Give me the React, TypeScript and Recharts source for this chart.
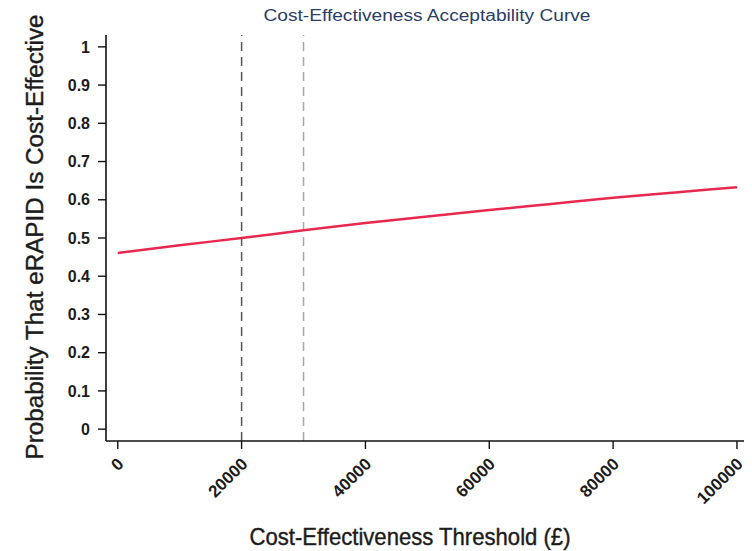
import { LineChart, Line, XAxis, YAxis, ReferenceLine, Label } from 'recharts';

// Willingness-to-pay thresholds (GBP) and probability that eRAPID is cost-effective
const thresholds = [0, 10000, 20000, 30000, 40000, 50000, 60000, 70000, 80000, 90000, 100000];
const probability = [0.461, 0.481, 0.5, 0.52, 0.539, 0.556, 0.573, 0.589, 0.605, 0.619, 0.633];

const xTicks = [0, 20000, 40000, 60000, 80000, 100000];
const yTicks = [0, 0.1, 0.2, 0.3, 0.4, 0.5, 0.6, 0.7, 0.8, 0.9, 1];
const refThresholds = [20000, 30000];
const refColors = ['#555555', '#a8a8a8'];

const FONT = '"Liberation Sans", Arial, sans-serif';
const INK = '#1c1c1c';

const data = thresholds.map((t, i) => ({ threshold: t, prob: probability[i] }));

function RotatedTick({ x, y, payload }: any) {
  return (
    <g transform={`translate(${x + 7},${y + 14})`}>
      <text
        textAnchor="end"
        transform="rotate(-45)"
        fontSize={17}
        fontWeight={700}
        fontFamily={FONT}
        fill={INK}
      >
        {payload.value}
      </text>
    </g>
  );
}

// title + x axis title, drawn at fixed spots in the svg
function renderXLabels() {
  return (
    <g>
      <text
        x={419}
        y={13}
        textAnchor="middle"
        fontSize={16}
        fontFamily={FONT}
        fill="#2b3d66"
        textLength={327}
        lengthAdjust="spacingAndGlyphs"
      >
        Cost-Effectiveness Acceptability Curve
      </text>
      <text
        x={402}
        y={537}
        textAnchor="middle"
        fontSize={24}
        fontFamily={FONT}
        fill={INK}
        stroke={INK}
        strokeWidth={0.4}
        textLength={321}
        lengthAdjust="spacingAndGlyphs"
      >
        Cost-Effectiveness Threshold (£)
      </text>
    </g>
  );
}

function renderYLabel() {
  return (
    <text
      x={0}
      y={0}
      transform="translate(35,229) rotate(-90)"
      textAnchor="middle"
      fontSize={23}
      fontFamily={FONT}
      fill={INK}
      stroke={INK}
      strokeWidth={0.4}
      textLength={445}
      lengthAdjust="spacingAndGlyphs"
    >
      Probability That eRAPID Is Cost-Effective
    </text>
  );
}

export default function App() {
  return (
    <div style={{ width: 744, height: 543 }}>
      <LineChart
        width={744}
        height={543}
        data={data}
        margin={{ top: 27, right: 7, left: 0, bottom: 0 }}
      >
        <XAxis
          dataKey="threshold"
          type="number"
          domain={[-1900, 101300]}
          ticks={xTicks}
          interval={0}
          height={110}
          tickSize={8}
          tick={<RotatedTick />}
          axisLine={{ stroke: '#111', strokeWidth: 1.6 }}
          tickLine={{ stroke: '#111', strokeWidth: 1.4 }}
        >
          <Label content={renderXLabels} />
        </XAxis>
        <YAxis
          type="number"
          domain={[-0.031, 1.031]}
          ticks={yTicks}
          interval={0}
          width={98}
          tickSize={8}
          tickMargin={8}
          tickFormatter={(v: number) => String(Number(v.toFixed(1)))}
          tick={{ fontSize: 16, fontWeight: 700, fontFamily: FONT, fill: INK }}
          axisLine={{ stroke: '#111', strokeWidth: 1.6 }}
          tickLine={{ stroke: '#111', strokeWidth: 1.4 }}
        >
          <Label content={renderYLabel} />
        </YAxis>
        {refThresholds.map((t, i) => (
          <ReferenceLine
            key={t}
            x={t}
            stroke={refColors[i]}
            strokeWidth={1.5}
            strokeDasharray="9 6"
          />
        ))}
        <Line
          type="monotone"
          dataKey="prob"
          stroke="#e8294f"
          strokeWidth={2.5}
          dot={false}
          isAnimationActive={false}
        />
      </LineChart>
    </div>
  );
}
